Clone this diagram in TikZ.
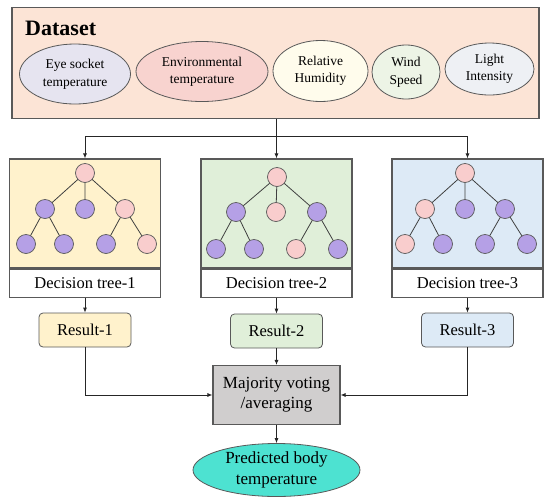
\documentclass[tikz,border=0pt]{standalone}
\usepackage{fontspec}
\setmainfont{Liberation Serif}
\usepackage{xcolor}
\usetikzlibrary{positioning, arrows.meta, shapes.geometric}
\definecolor{edge}{HTML}{595959}
\definecolor{peach}{HTML}{FCE4D6}
\definecolor{lavgrey}{HTML}{E6E4F0}
\definecolor{rosy}{HTML}{F8D3CF}
\definecolor{cream}{HTML}{FFFCEC}
\definecolor{mint}{HTML}{EDF4E6}
\definecolor{silver}{HTML}{EEF0F4}
\definecolor{sandy}{HTML}{FFF2CC}
\definecolor{leaf}{HTML}{E0EFD9}
\definecolor{sky}{HTML}{DDEAF6}
\definecolor{pinkleaf}{HTML}{F9CDCD}
\definecolor{violet}{HTML}{B5A0E6}
\definecolor{vote}{HTML}{D0CECE}
\definecolor{teal}{HTML}{4DE2D1}
\tikzset{
  dataset/.style={draw=edge, fill=peach, line width=1.1pt, minimum width=527, minimum height=111},
  feat/.style={ellipse, draw=edge, line width=0.8pt, align=center, inner sep=0pt,
               font=\fontsize{13.5}{17.5}\selectfont},
  treebox/.style={draw=edge, line width=1.1pt, minimum width=151, minimum height=109},
  tlabel/.style={draw=edge, fill=white, line width=1.1pt, minimum width=151, minimum height=28,
                 font=\fontsize{16.5}{19}\selectfont},
  leafp/.style={circle, draw=edge, fill=pinkleaf, line width=0.7pt, minimum size=19, inner sep=0pt},
  leafv/.style={circle, draw=edge, fill=violet, line width=0.7pt, minimum size=19, inner sep=0pt},
  branch/.style={draw=black!75, line width=0.8pt},
  result/.style={draw=edge, rounded corners=4, line width=0.8pt, minimum width=92, minimum height=34,
                 font=\fontsize{16.5}{19}\selectfont},
  voter/.style={draw=edge, fill=vote, line width=1.1pt, minimum width=127, minimum height=59,
                align=center, font=\fontsize{17}{20}\selectfont},
  output/.style={ellipse, draw=edge, fill=teal, line width=0.8pt, minimum width=167, minimum height=53,
                 align=center, inner sep=0pt, font=\fontsize{17}{21}\selectfont},
  ar/.style={-{Latex[length=5pt, width=4pt]}, line width=0.8pt, black!85},
  ln/.style={line width=0.8pt, black!85},
}
\begin{document}
\begin{tikzpicture}[x=1pt, y=-1pt]
  \useasboundingbox (0,0) rectangle (550,499);
  % dataset
  \node[dataset] (data) at (275.5,62.8) {};
  \node[anchor=base west, font=\fontsize{22}{24}\selectfont\bfseries] (title) at (21.7,35) {Dataset};
  \node[feat, fill=lavgrey, minimum width=111, minimum height=60] (eye) at (75,74) {Eye socket\\temperature};
  \node[feat, fill=rosy, minimum width=132, minimum height=60] (env) at (202,71.5) {Environmental\\temperature};
  \node[feat, fill=cream, minimum width=95, minimum height=61] (hum) at (320.5,71) {Relative\\Humidity};
  \node[feat, fill=mint, minimum width=68, minimum height=54] (wind) at (406,72) {Wind\\Speed};
  \node[feat, fill=silver, minimum width=89, minimum height=52] (light) at (489.5,69) {Light\\Intensity};

  % decision trees
  \node[treebox, fill=sandy] (tree1) at (85,213.5) {};
  \node[tlabel, below=0pt of tree1] (lab1) {Decision tree-1};
  \node[treebox, fill=leaf] (tree2) at (276.5,213.5) {};
  \node[tlabel, below=0pt of tree2] (lab2) {Decision tree-2};
  \node[treebox, fill=sky] (tree3) at (467.5,213.5) {};
  \node[tlabel, below=0pt of tree3] (lab3) {Decision tree-3};

  % tree 1
  \begin{scope}[shift={(85,173)}]
    \draw[branch] (0,0) -- (-40,36) (0,0) -- (0,36) (0,0) -- (40,36)
                  (-40,36) -- (-59,71) (-40,36) -- (-21,71) (40,36) -- (21,71) (40,36) -- (62,71);
    \node[leafp] (t1r) at (0,0) {};
    \node[leafv] (t1a) at (-40,36) {};
    \node[leafv] (t1b) at (0,36) {};
    \node[leafp] (t1c) at (40,36) {};
    \node[leafv] (t1d) at (-59,71) {};
    \node[leafv] (t1e) at (-21,71) {};
    \node[leafv] (t1f) at (21,71) {};
    \node[leafp] (t1g) at (62,71) {};
  \end{scope}
  % tree 2
  \begin{scope}[shift={(277,177)}]
    \draw[branch] (0,0) -- (-41,35) (0,0) -- (-1,35) (0,0) -- (40,35)
                  (-41,35) -- (-61,72) (-41,35) -- (-23,72) (40,35) -- (19,72) (40,35) -- (61,72);
    \node[leafp] (t2r) at (0,0) {};
    \node[leafv] (t2a) at (-41,35) {};
    \node[leafp] (t2b) at (-1,35) {};
    \node[leafv] (t2c) at (40,35) {};
    \node[leafv] (t2d) at (-61,72) {};
    \node[leafv] (t2e) at (-23,72) {};
    \node[leafp] (t2f) at (19,72) {};
    \node[leafv] (t2g) at (61,72) {};
  \end{scope}
  % tree 3
  \begin{scope}[shift={(465,173)}]
    \draw[branch] (0,0) -- (-40,36) (0,0) -- (0,36) (0,0) -- (40,36)
                  (-40,36) -- (-60,71) (-40,36) -- (-22,71) (40,36) -- (20,71) (40,36) -- (62,71);
    \node[leafp] (t3r) at (0,0) {};
    \node[leafp] (t3a) at (-40,36) {};
    \node[leafv] (t3b) at (0,36) {};
    \node[leafv] (t3c) at (40,36) {};
    \node[leafp] (t3d) at (-60,71) {};
    \node[leafv] (t3e) at (-22,71) {};
    \node[leafv] (t3f) at (20,71) {};
    \node[leafv] (t3g) at (62,71) {};
  \end{scope}

  % results and voting
  \node[result, fill=sandy] (res1) at (85,330) {Result-1};
  \node[result, fill=leaf] (res2) at (276.5,331) {Result-2};
  \node[result, fill=sky] (res3) at (467.5,330) {Result-3};
  \node[voter] (major) at (276.5,395) {Majority voting\\/averaging};
  \node[output] (pred) at (276.5,470) {Predicted body\\temperature};

  % connectors
  \coordinate (split) at (276.5,136);
  \draw[ln] (data.south -| split) -- (split);
  \draw[ar] (split) -| (tree1.north);
  \draw[ar] (split) -- (tree2.north);
  \draw[ar] (split) -| (tree3.north);
  \draw[ar] (lab1) -- (res1);
  \draw[ar] (lab2) -- (res2);
  \draw[ar] (lab3) -- (res3);
  \draw[ar] (res1) |- (major);
  \draw[ar] (res2) -- (major);
  \draw[ar] (res3) |- (major);
  \draw[ar] (major) -- (pred);
\end{tikzpicture}
\end{document}
